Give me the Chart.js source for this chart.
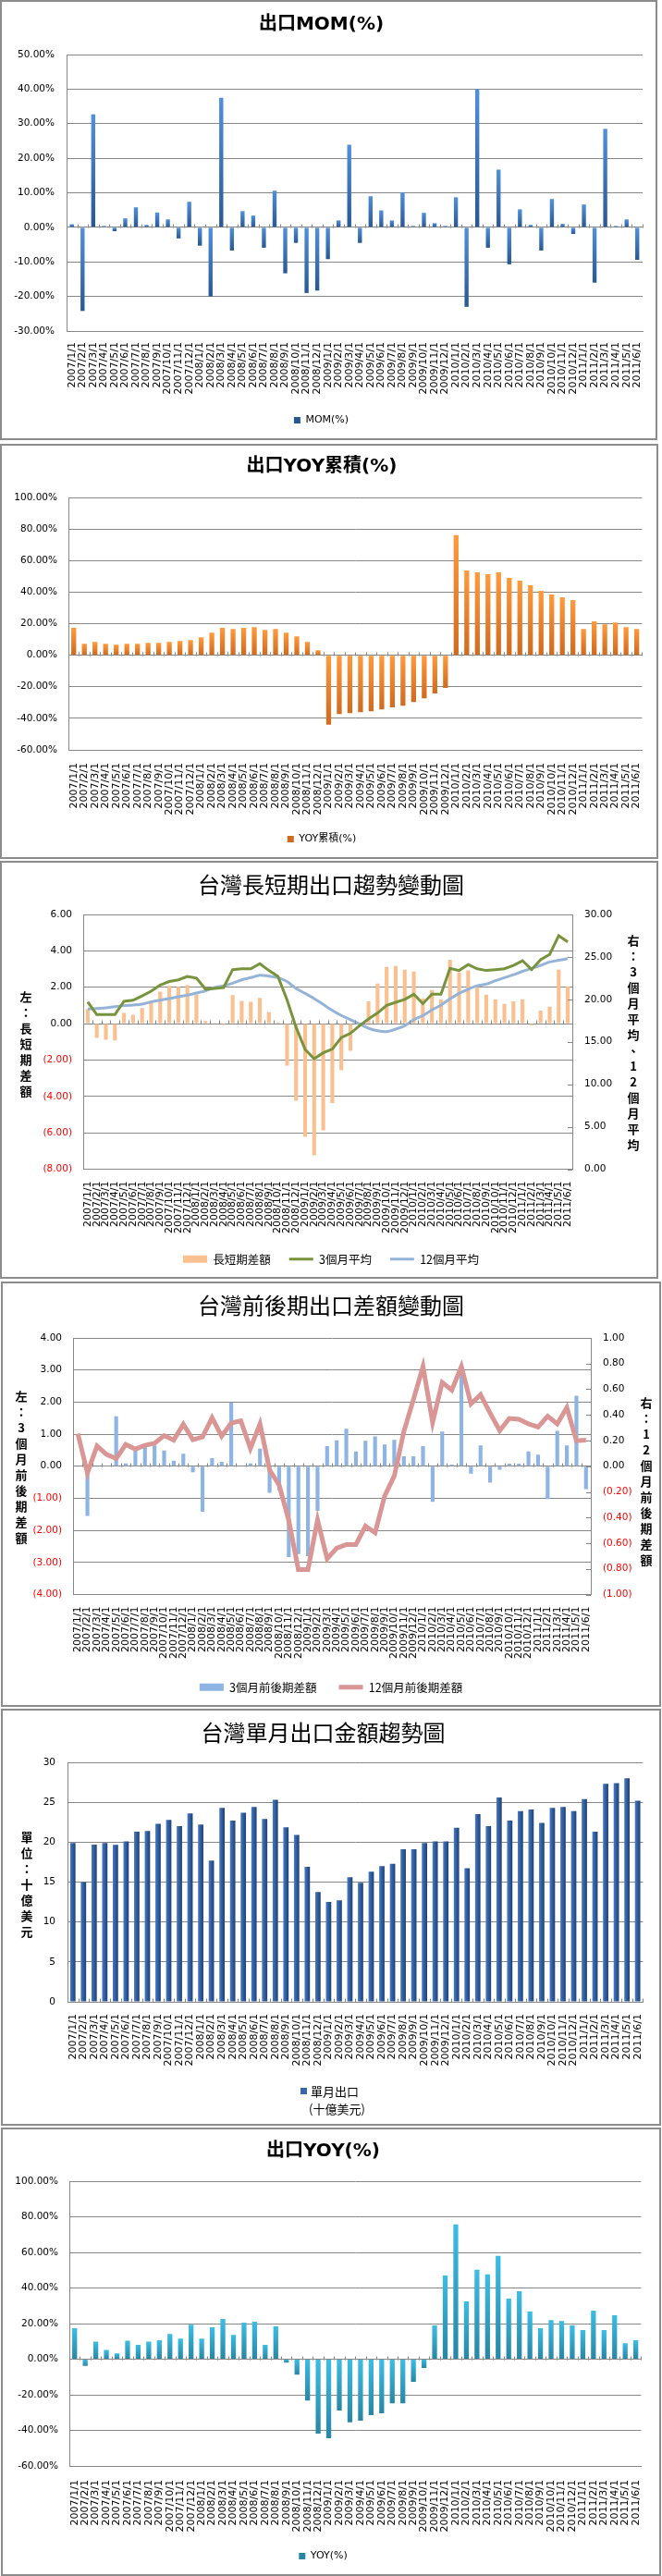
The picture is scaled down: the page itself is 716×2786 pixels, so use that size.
<!DOCTYPE html>
<html><head><meta charset="utf-8">
<script src="https://cdn.jsdelivr.net/npm/chart.js@4.4.1/dist/chart.umd.min.js"></script>
<style>
html,body{margin:0;padding:0;background:#fff;}
body{width:716px;height:2786px;position:relative;overflow:hidden;}
canvas{position:absolute;left:0;}
.bx{position:absolute;box-sizing:border-box;border:2px solid #8c8c8c;pointer-events:none;}
.vt{position:absolute;width:20px;text-align:center;font:bold 13px/17px 'Noto Sans CJK TC',sans-serif;color:#000;}
</style></head><body>
<canvas id="c1" width="716" height="476" style="top:0px"></canvas>
<canvas id="c2" width="716" height="449" style="top:480px"></canvas>
<canvas id="c3" width="716" height="452" style="top:931px"></canvas>
<canvas id="c4" width="716" height="460" style="top:1386px"></canvas>
<canvas id="c5" width="716" height="451" style="top:1848px"></canvas>
<canvas id="c6" width="716" height="485" style="top:2301px"></canvas>
<div class="bx" style="left:0px;top:0px;width:711px;height:476px"></div>
<div class="bx" style="left:0px;top:480px;width:712px;height:449px"></div>
<div class="bx" style="left:0px;top:931px;width:712px;height:452px"></div>
<div class="bx" style="left:1px;top:1386px;width:714px;height:460px"></div>
<div class="bx" style="left:1px;top:1848px;width:714px;height:451px"></div>
<div class="bx" style="left:1px;top:2301px;width:714px;height:485px"></div>
<div class="vt" id="t3l" style="left:18px;top:1069px"></div>
<div class="vt" id="t3r" style="left:675px;top:1008px"></div>
<div class="vt" id="t4l" style="left:13px;top:1501px"></div>
<div class="vt" id="t4r" style="left:689px;top:1508px"></div>
<div class="vt" id="t5l" style="left:19px;top:1978px"></div>
<script>
// ---------------- DATA ----------------
const categories = [
 '2007/1/1','2007/2/1','2007/3/1','2007/4/1','2007/5/1','2007/6/1','2007/7/1','2007/8/1','2007/9/1','2007/10/1','2007/11/1','2007/12/1',
 '2008/1/1','2008/2/1','2008/3/1','2008/4/1','2008/5/1','2008/6/1','2008/7/1','2008/8/1','2008/9/1','2008/10/1','2008/11/1','2008/12/1',
 '2009/1/1','2009/2/1','2009/3/1','2009/4/1','2009/5/1','2009/6/1','2009/7/1','2009/8/1','2009/9/1','2009/10/1','2009/11/1','2009/12/1',
 '2010/1/1','2010/2/1','2010/3/1','2010/4/1','2010/5/1','2010/6/1','2010/7/1','2010/8/1','2010/9/1','2010/10/1','2010/11/1','2010/12/1',
 '2011/1/1','2011/2/1','2011/3/1','2011/4/1','2011/5/1','2011/6/1'];

const momPct = [0.9,-24.2,32.7,0.4,-1.1,2.6,5.8,0.7,4.3,2.3,-3.2,7.4,
 -5.3,-20.0,37.5,-6.7,4.7,3.4,-5.9,10.6,-13.3,-4.5,-19.0,-18.3,
 -9.2,2.0,23.9,-4.5,9.0,4.9,2.0,10.1,0.4,4.2,1.2,0.4,
 8.7,-23.0,40.0,-5.9,16.7,-10.7,5.2,0.7,-6.7,8.2,1.0,-1.9,
 6.6,-16.0,28.5,0.4,2.3,-9.4];

const yoyCumPct = [17.3,7.3,8.4,7.3,6.7,7.3,7.3,7.8,7.8,8.4,9.0,9.6,
 11.4,14.3,17.3,16.7,17.3,17.8,16.1,16.7,14.3,12.0,8.4,3.1,
 -44.1,-37.3,-36.7,-36.1,-35.5,-34.3,-33.1,-32.0,-29.6,-27.3,-24.3,-20.8,
 76.1,53.7,52.5,51.4,52.5,49.0,47.3,44.3,40.8,38.4,36.7,34.9,
 16.7,21.4,19.6,20.8,17.8,16.7];

const longShortDiff = [0.80,-0.78,-0.88,-0.93,0.59,0.49,0.85,1.14,1.76,2.07,2.02,2.12,
 1.61,0.14,0.02,-0.07,1.56,1.25,1.20,1.41,0.64,0.08,-2.31,-4.24,
 -6.22,-7.24,-5.86,-4.37,-2.56,-1.49,0.00,1.22,2.20,3.12,3.17,2.97,
 2.86,1.37,1.85,1.34,3.51,2.81,2.92,2.02,1.59,1.34,1.08,1.22,
 1.34,-0.08,0.71,0.93,2.97,2.05];

const avg3m = [19.7,18.2,18.2,18.2,19.77,19.9,20.4,20.96,21.7,22.1,22.3,22.7,
 22.5,21.2,21.3,21.4,23.5,23.6,23.6,24.2,23.4,22.7,19.95,16.7,
 14.1,13.0,13.7,14.15,15.5,16.0,16.9,17.7,18.4,19.3,19.66,20.0,
 20.6,19.5,20.6,20.6,23.65,23.4,24.1,23.6,23.4,23.5,23.6,24.0,
 24.55,23.5,24.66,25.3,27.5,26.77];

const avg12m = [18.86,18.93,19.0,19.15,19.26,19.33,19.44,19.7,19.9,20.1,20.3,20.5,
 20.75,21.0,21.4,21.6,21.9,22.3,22.56,22.85,22.74,22.56,22.1,21.3,
 20.7,20.1,19.4,18.7,18.1,17.6,17.1,16.6,16.3,16.2,16.5,16.9,
 17.6,18.1,18.75,19.33,20.06,20.7,21.2,21.6,21.8,22.2,22.56,22.9,
 23.3,23.65,24.0,24.4,24.6,24.8];

const diff3m = [-0.02,-1.55,-0.01,0.01,1.56,0.09,0.52,0.60,0.65,0.49,0.17,0.39,
 -0.19,-1.42,0.25,0.14,1.99,0.00,0.09,0.55,-0.83,-0.75,-2.83,-2.74,
 -2.80,-1.39,0.63,0.81,1.17,0.46,0.79,0.93,0.68,0.82,0.31,0.31,
 0.63,-1.11,1.08,0.05,2.89,-0.23,0.65,-0.51,-0.11,0.08,0.08,0.46,
 0.36,-1.02,1.10,0.65,2.20,-0.71];

const diff12m = [0.254,-0.053,0.158,0.091,0.06,0.17,0.134,0.163,0.179,0.239,0.203,0.328,
 0.206,0.227,0.378,0.234,0.337,0.354,0.139,0.33,-0.029,-0.148,-0.423,-0.806,
 -0.806,-0.419,-0.722,-0.639,-0.61,-0.61,-0.467,-0.519,-0.232,-0.077,0.27,0.52,
 0.777,0.342,0.653,0.593,0.777,0.486,0.557,0.414,0.277,0.373,0.366,0.33,
 0.306,0.39,0.33,0.457,0.199,0.203];

const monthlyExport = [19.9,15.0,19.7,19.9,19.65,20.1,21.3,21.4,22.3,22.8,22.0,23.6,
 22.2,17.7,24.3,22.7,23.7,24.4,22.9,25.3,21.85,20.9,16.9,13.75,
 12.5,12.7,15.6,14.9,16.3,17.0,17.3,19.1,19.1,19.9,20.1,20.1,
 21.8,16.75,23.5,22.0,25.6,22.7,23.9,24.1,22.4,24.3,24.4,23.9,
 25.4,21.3,27.3,27.4,28.0,25.2];

const yoyPct = [17.4,-3.8,9.9,5.2,3.3,10.4,8.0,9.9,10.6,14.1,11.5,19.4,
 11.5,17.9,22.6,13.7,20.5,21.0,8.0,18.4,-1.9,-8.7,-23.3,-41.8,
 -44.4,-28.8,-35.4,-34.5,-31.4,-30.4,-24.8,-24.8,-12.7,-4.9,18.9,47.0,
 75.7,32.5,50.2,47.6,58.0,34.0,38.2,26.7,17.4,22.0,21.4,18.9,
 16.3,27.3,16.3,24.7,9.0,10.6];

const ticksMom = [-30,-20,-10,0,10,20,30,40,50];
const ticksYoyCum = [-60,-40,-20,0,20,40,60,80,100];
const ticksLongShort = [-8,-6,-4,-2,0,2,4,6];
const ticksAvg = [0,5,10,15,20,25,30];
const ticksDiff3m = [-4,-3,-2,-1,0,1,2,3,4];
const ticksDiff12m = [-1,-0.8,-0.6,-0.4,-0.2,0,0.2,0.4,0.6,0.8,1];
const ticksExport = [0,5,10,15,20,25,30];
const ticksYoy = [-60,-40,-20,0,20,40,60,80,100];

const titles = ['出口MOM(%)','出口YOY累積(%)','台灣長短期出口趨勢變動圖','台灣前後期出口差額變動圖','台灣單月出口金額趨勢圖','出口YOY(%)'];
const seriesNames = {mom:'MOM(%)', yoyCum:'YOY累積(%)', ls:'長短期差額', a3:'3個月平均', a12:'12個月平均', d3:'3個月前後期差額', d12:'12個月前後期差額', yoy:'YOY(%)'};
const legend5 = ['單月出口','(十億美元)'];
const axisTitles = {t3l:'左：長短期差額', t3r:'右：3個月平均、12個月平均', t4l:'左：3個月前後期差額', t4r:'右：12個月前後期差額', t5l:'單位：十億美元'};

// ---------------- STYLE HELPERS ----------------
const FONT = "'DejaVu Sans','Noto Sans CJK TC',sans-serif";
const CJK = "'Noto Sans CJK TC','DejaVu Sans',sans-serif";
const GRID = '#878787';
Chart.defaults.font.family = FONT;
Chart.defaults.color = '#000';

for (const id in axisTitles) {
  document.getElementById(id).innerHTML = Array.from(axisTitles[id]).join('<br>');
}

function vGrad(top, bottom, axis) {
  return (c) => {
    if (c.type !== 'data' || !c.chart.chartArea) return top;
    const ys = c.chart.scales[axis || 'y'];
    const v = c.parsed ? c.parsed.y : c.raw;
    const p0 = ys.getPixelForValue(0), p1 = ys.getPixelForValue(v);
    const a = Math.min(p0, p1), b = Math.max(p0, p1);
    if (b - a < 1) return top;
    const g = c.chart.ctx.createLinearGradient(0, a, 0, b);
    g.addColorStop(0, top); g.addColorStop(1, bottom);
    return g;
  };
}
function hGrad(cols, hw) {
  return (c) => {
    if (c.type !== 'data' || !c.chart.chartArea) return cols[1];
    const x = c.chart.scales.x.getPixelForValue(c.dataIndex);
    const g = c.chart.ctx.createLinearGradient(x - hw, 0, x + hw, 0);
    g.addColorStop(0, cols[0]); g.addColorStop(0.4, cols[1]); g.addColorStop(1, cols[2]);
    return g;
  };
}
const fmtPct = v => v.toFixed(2) + '%';
const fmtAcc = v => { const a = Math.abs(v) < 1e-9 ? 0 : v; return a < 0 ? '(' + Math.abs(a).toFixed(2) + ')' : a.toFixed(2); };
const redNeg = c => (c.tick && c.tick.value < -1e-9) ? '#ff0000' : '#000';

function xAxis(h, pad, size) {
  return {
    type: 'category', offset: true,
    grid: { display: false, drawTicks: false },
    border: { display: true, color: GRID, width: 1 },
    ticks: { autoSkip: false, minRotation: 90, maxRotation: 90, padding: pad, font: { family: FONT, size: size }, color: '#000' },
    afterFit: s => { s.height = h; }
  };
}
function yAxis(o) {
  return {
    type: 'linear', position: o.pos || 'left', min: o.ticks[0], max: o.ticks[o.ticks.length - 1],
    afterBuildTicks: s => { s.ticks = o.ticks.map(v => ({ value: v })); },
    ticks: { padding: o.pad, font: { family: FONT, size: 10.5 }, color: o.color || '#000', callback: o.fmt },
    grid: { display: o.grid !== false, drawOnChartArea: o.grid !== false, color: GRID, lineWidth: 1, drawTicks: false },
    border: { display: true, color: GRID, width: 1 },
    afterFit: s => { s.width = o.width; }
  };
}
function titleOpt(text, size, weight, top, bottom, fam) {
  return { display: true, text: text, color: '#000', font: { family: fam, size: size, weight: weight, lineHeight: 1.2 }, padding: { top: top, bottom: bottom } };
}
const legendBox = {
  position: 'bottom',
  labels: { font: { family: FONT, size: 11 }, color: '#000', boxWidth: 7, boxHeight: 7, padding: 10 }
};
function legendMixed(size, pad) {
  return {
    position: 'bottom',
    labels: {
      font: { family: CJK, size: size }, color: '#000', usePointStyle: true, pointStyleWidth: 26, boxHeight: 8, padding: pad,
      generateLabels: chart => chart.data.datasets.map((ds, i) => ({
        text: ds.label, datasetIndex: i, hidden: false,
        fillStyle: ds.type === 'line' ? ds.borderColor : ds.legendColor,
        strokeStyle: ds.type === 'line' ? ds.borderColor : ds.legendColor,
        lineWidth: ds.type === 'line' ? ds.borderWidth : 0,
        pointStyle: ds.type === 'line' ? 'line' : 'rect'
      }))
    }
  };
}
function baseOpts(extra) {
  return Object.assign({
    responsive: false, animation: false, devicePixelRatio: 1,
    events: [],
  }, extra);
}

const zeroTicks = {
  id: 'zeroTicks',
  afterDatasetsDraw(chart) {
    const x = chart.scales.x, y = chart.scales.y;
    const y0 = Math.round(y.getPixelForValue(0)) + 0.5;
    const n = chart.data.labels.length;
    const w = (x.right - x.left) / n;
    const ctx = chart.ctx;
    ctx.save(); ctx.strokeStyle = GRID; ctx.lineWidth = 1; ctx.beginPath();
    for (let i = 0; i <= n; i++) { const xx = Math.round(x.left + i * w) + 0.5; ctx.moveTo(xx, y0 - 4); ctx.lineTo(xx, y0); }
    ctx.stroke(); ctx.restore();
  }
};
const rightTicks = {
  id: 'rightTicks',
  afterDraw(chart) {
    const s = chart.scales.y1, ctx = chart.ctx;
    ctx.save(); ctx.strokeStyle = GRID; ctx.lineWidth = 1; ctx.beginPath();
    s.ticks.forEach(t => { const yy = Math.round(s.getPixelForValue(t.value)) + 0.5; ctx.moveTo(s.left - 5, yy); ctx.lineTo(s.left, yy); });
    ctx.stroke(); ctx.restore();
  }
};
const legend5Plugin = {
  id: 'legend5',
  afterDraw(chart) {
    const ctx = chart.ctx;
    ctx.save();
    ctx.fillStyle = '#3a66ad'; ctx.fillRect(325, 410, 7, 7);
    ctx.fillStyle = '#000'; ctx.font = '13px ' + CJK; ctx.textBaseline = 'middle'; ctx.textAlign = 'left';
    ctx.fillText(legend5[0], 336, 414);
    ctx.fillText(legend5[1], 334, 433);
    ctx.restore();
  }
};

// ---------------- CHART 1 : MOM ----------------
new Chart(document.getElementById('c1'), {
  type: 'bar',
  data: { labels: categories, datasets: [{ label: seriesNames.mom, data: momPct, backgroundColor: vGrad('#5090dc', '#285894'), barPercentage: 0.38, categoryPercentage: 1 }] },
  options: baseOpts({
    layout: { padding: { left: 0, right: 21, top: 0, bottom: 6 } },
    plugins: { title: titleOpt(titles[0], 20, 'bold', 15, 20, FONT), legend: legendBox, tooltip: { enabled: false } },
    scales: { x: xAxis(81, 12, 11), y: yAxis({ ticks: ticksMom, width: 72, pad: 13, fmt: fmtPct }) }
  }),
  plugins: [zeroTicks]
});

// ---------------- CHART 2 : YOY cumulative ----------------
new Chart(document.getElementById('c2'), {
  type: 'bar',
  data: { labels: categories, datasets: [{ label: seriesNames.yoyCum, data: yoyCumPct, backgroundColor: vGrad('#ff9a3c', '#d06a1e'), barPercentage: 0.46, categoryPercentage: 1 }] },
  options: baseOpts({
    layout: { padding: { left: 0, right: 20, top: 0, bottom: 6 } },
    plugins: { title: titleOpt(titles[1], 20, 'bold', 13, 21, FONT), legend: legendBox, tooltip: { enabled: false } },
    scales: { x: xAxis(81, 14, 11), y: yAxis({ ticks: ticksYoyCum, width: 74, pad: 12, fmt: fmtPct }) }
  }),
  plugins: [zeroTicks]
});

// ---------------- CHART 3 : long/short trend ----------------
new Chart(document.getElementById('c3'), {
  type: 'bar',
  data: { labels: categories, datasets: [
    { type: 'bar', label: seriesNames.ls, data: longShortDiff, backgroundColor: '#fac090', legendColor: '#fac090', yAxisID: 'y', barPercentage: 0.42, categoryPercentage: 1, order: 3 },
    { type: 'line', label: seriesNames.a3, data: avg3m, borderColor: '#77933c', backgroundColor: '#77933c', borderWidth: 3, pointRadius: 0, tension: 0, yAxisID: 'y1', order: 1 },
    { type: 'line', label: seriesNames.a12, data: avg12m, borderColor: '#95b3d7', backgroundColor: '#95b3d7', borderWidth: 3, pointRadius: 0, tension: 0.3, yAxisID: 'y1', order: 2 }
  ] },
  options: baseOpts({
    layout: { padding: { left: 0, right: 0, top: 0, bottom: 5 } },
    plugins: { title: titleOpt(titles[2], 24, 'normal', 11.6, 17.6, CJK), legend: legendMixed(12.5, 20), tooltip: { enabled: false } },
    scales: {
      x: xAxis(71, 13, 11),
      y: yAxis({ ticks: ticksLongShort, width: 90, pad: 12, fmt: fmtAcc, color: redNeg }),
      y1: yAxis({ pos: 'right', ticks: ticksAvg, width: 97, pad: 13, fmt: v => v.toFixed(2), grid: false })
    }
  }),
  plugins: [zeroTicks, rightTicks]
});

// ---------------- CHART 4 : period differences ----------------
new Chart(document.getElementById('c4'), {
  type: 'bar',
  data: { labels: categories, datasets: [
    { type: 'bar', label: seriesNames.d3, data: diff3m, backgroundColor: '#8db4e3', legendColor: '#8db4e3', yAxisID: 'y', barPercentage: 0.4, categoryPercentage: 1, order: 2 },
    { type: 'line', label: seriesNames.d12, data: diff12m, borderColor: '#d99694', backgroundColor: '#d99694', borderWidth: 5, pointRadius: 0, tension: 0, yAxisID: 'y1', order: 1 }
  ] },
  options: baseOpts({
    layout: { padding: { left: 0, right: 0, top: 0, bottom: 5 } },
    plugins: { title: titleOpt(titles[3], 24, 'normal', 11.6, 20.6, CJK), legend: legendMixed(12.5, 24), tooltip: { enabled: false } },
    scales: {
      x: xAxis(70, 13, 11),
      y: yAxis({ ticks: ticksDiff3m, width: 79, pad: 12, fmt: fmtAcc, color: redNeg }),
      y1: yAxis({ pos: 'right', ticks: ticksDiff12m, width: 77, pad: 13, fmt: fmtAcc, color: redNeg, grid: false })
    }
  }),
  plugins: [zeroTicks, rightTicks]
});

// ---------------- CHART 5 : monthly export ----------------
new Chart(document.getElementById('c5'), {
  type: 'bar',
  data: { labels: categories, datasets: [{ label: legend5.join(' '), data: monthlyExport, backgroundColor: hGrad(['#4a7cc6', '#3462a6', '#1d3f73'], 3), barPercentage: 0.5, categoryPercentage: 1 }] },
  options: baseOpts({
    layout: { padding: { left: 0, right: 17, top: 0, bottom: 0 } },
    plugins: { title: titleOpt(titles[4], 24, 'normal', 11.6, 17.6, CJK), legend: { display: false }, tooltip: { enabled: false } },
    scales: { x: xAxis(134, 13, 11), y: yAxis({ ticks: ticksExport, width: 73, pad: 13, fmt: v => String(v) }) }
  }),
  plugins: [zeroTicks, legend5Plugin]
});

// ---------------- CHART 6 : YOY ----------------
new Chart(document.getElementById('c6'), {
  type: 'bar',
  data: { labels: categories, datasets: [{ label: seriesNames.yoy, data: yoyPct, backgroundColor: vGrad('#3cbde6', '#2786a4'), barPercentage: 0.46, categoryPercentage: 1 }] },
  options: baseOpts({
    layout: { padding: { left: 0, right: 17, top: 0, bottom: 6 } },
    plugins: { title: titleOpt(titles[5], 20, 'bold', 14, 20, FONT), legend: legendBox, tooltip: { enabled: false } },
    scales: { x: xAxis(82, 15, 11), y: yAxis({ ticks: ticksYoy, width: 75, pad: 12, fmt: fmtPct }) }
  }),
  plugins: [zeroTicks]
});
</script>
</body></html>
